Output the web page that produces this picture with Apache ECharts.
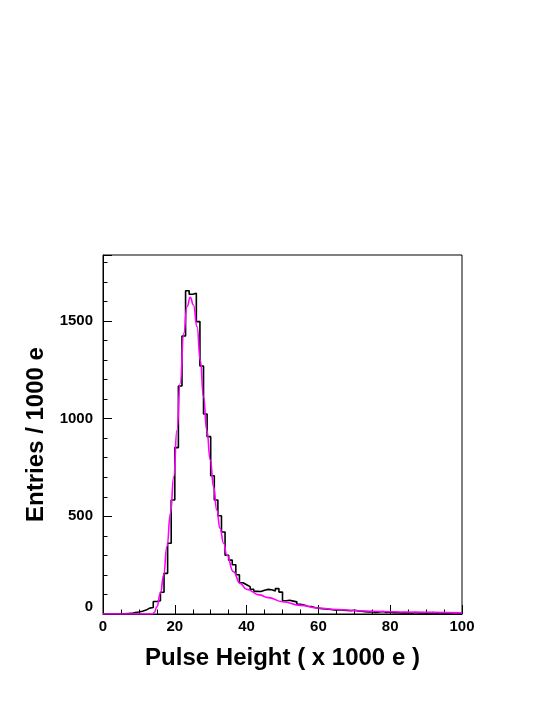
<!DOCTYPE html>
<html>
<head>
<meta charset="utf-8">
<title>Pulse Height</title>
<script src="https://cdn.jsdelivr.net/npm/echarts@6/dist/echarts.min.js"></script>
<style>
  html, body { margin: 0; padding: 0; background: #fff; }
  #pulse-height { width: 554px; height: 717px; }
</style>
</head>
<body>
<div id="pulse-height"></div>
<script>
// histogram: 100 bins of 1 (x 1000 e) from 0 to 100
const binWidth = 1;
const entries = [
  0, 0, 0, 0, 0, 1, 2, 3, 8, 10,
  14, 20, 30, 33, 64, 68, 111, 208, 362, 584,
  852, 1167, 1423, 1655, 1637, 1642, 1497, 1270, 1024, 908,
  708, 584, 503, 420, 301, 276, 252, 201, 160, 150,
  140, 127, 116, 115, 122, 126, 124, 118, 130, 112,
  68, 70, 66, 62, 50, 46, 40, 38, 33, 30,
  27, 26, 24, 22, 20, 22, 19, 18, 17, 19,
  16, 14, 12, 10, 12, 8, 10, 13, 8, 10,
  6, 8, 5, 7, 6, 4, 8, 5, 6, 4,
  5, 7, 4, 6, 3, 5, 4, 6, 3, 4
];

// fit curve
const fitX = [0, 12, 13.8, 14.3, 15.0, 16.0, 16.9, 17.8, 18.8, 19.7, 20.6, 21.5, 22.5, 23.4, 24.3,
  25.2, 26.2, 27.1, 28.0, 28.9, 29.9, 30.8, 31.7, 32.6, 33.6, 34.5, 36.3, 38.2, 40, 43.5,
  46, 50, 55, 60, 65, 73, 83, 100];
const fitY = [0, 0, 0, 8, 37, 106, 200, 345, 515, 703, 942, 1181, 1437, 1573, 1621,
  1582, 1471, 1300, 1112, 942, 788, 652, 532, 439, 362, 302, 217, 157, 127, 98,
  84, 63, 44, 31, 23, 15, 10, 6];

const xTickLabels = [0, 20, 40, 60, 80, 100];
const yTickLabels = [0, 500, 1000, 1500];

const font = 'Liberation Sans';

let histData = entries.map((v, i) => [i * binWidth, v]);
histData.push([entries.length * binWidth, entries[entries.length - 1]]);
let fitData = fitX.map((x, i) => [x, fitY[i]]);

let chart = echarts.init(document.getElementById('pulse-height'));
const option = {
  animation: false,
  backgroundColor: '#fff',
  grid: {
    left: 103,
    top: 255,
    width: 359,
    height: 359,
    show: true,
    borderColor: '#000',
    borderWidth: 1,
    backgroundColor: 'transparent'
  },
  xAxis: [
    {
      type: 'value',
      position: 'bottom',
      min: 0,
      max: 100,
      interval: 5,
      splitLine: { show: false },
      axisLine: { show: true, onZero: false, lineStyle: { color: '#000', width: 1 } },
      axisTick: { show: true, inside: true, length: 4.5, lineStyle: { color: '#000' } },
      axisLabel: {
        margin: 5,
        color: '#000',
        fontFamily: font,
        fontWeight: 'bold',
        fontSize: 15,
        formatter: function (v) {
          return xTickLabels.indexOf(v) >= 0 ? String(v) : '';
        }
      },
      name: 'Pulse Height ( x 1000 e )',
      nameLocation: 'middle',
      nameGap: 32,
      nameTextStyle: { color: '#000', fontFamily: font, fontWeight: 'bold', fontSize: 24 }
    },
    {
      type: 'value',
      position: 'bottom',
      min: 0,
      max: 100,
      interval: 20,
      splitLine: { show: false },
      axisLine: { show: false, onZero: false },
      axisTick: { show: true, inside: true, length: 9, lineStyle: { color: '#000' } },
      axisLabel: { show: false }
    }
  ],
  yAxis: [
    {
      type: 'value',
      position: 'left',
      min: 0,
      max: 1838,
      interval: 100,
      splitLine: { show: false },
      axisLine: { show: true, onZero: false, lineStyle: { color: '#000', width: 1 } },
      axisTick: { show: true, inside: true, length: 4.5, lineStyle: { color: '#000' } },
      axisLabel: {
        margin: 10,
        color: '#000',
        fontFamily: font,
        fontWeight: 'bold',
        fontSize: 15,
        formatter: function (v) {
          if (v === 0) return '{z|0}';
          return yTickLabels.indexOf(v) >= 0 ? String(v) : '';
        },
        rich: {
          z: { fontFamily: font, fontWeight: 'bold', fontSize: 15, color: '#000', padding: [0, 0, 14, 0] }
        }
      },
      name: 'Entries / 1000 e',
      nameLocation: 'middle',
      nameGap: 50,
      nameTextStyle: { color: '#000', fontFamily: font, fontWeight: 'bold', fontSize: 24 }
    },
    {
      type: 'value',
      position: 'left',
      min: 0,
      max: 1838,
      interval: 500,
      splitLine: { show: false },
      axisLine: { show: false, onZero: false },
      axisTick: { show: true, inside: true, length: 9, lineStyle: { color: '#000' } },
      axisLabel: { show: false }
    }
  ],
  series: [
    {
      name: 'histogram',
      type: 'line',
      step: 'end',
      xAxisIndex: 0,
      yAxisIndex: 0,
      symbol: 'none',
      data: histData,
      lineStyle: { color: '#000', width: 1.6 },
      z: 2
    },
    {
      name: 'fit',
      type: 'line',
      xAxisIndex: 0,
      yAxisIndex: 0,
      symbol: 'none',
      smooth: 0.5,
      smoothMonotone: 'x',
      data: fitData,
      lineStyle: { color: '#ff00ff', width: 1.6 },
      z: 3
    }
  ]
};
chart.setOption(option);
window.addEventListener('resize', function () {
  chart.resize();
});
</script>
</body>
</html>
